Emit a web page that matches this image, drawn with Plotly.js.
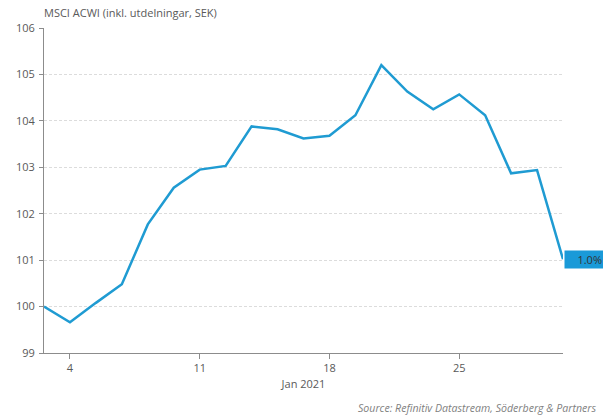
<!DOCTYPE html>
<html>
<head>
<meta charset="utf-8">
<script src="https://cdn.plot.ly/plotly-3.0.1.min.js"></script>
<style>html,body{margin:0;padding:0;background:#fff;}#chart{width:603px;height:416px;}</style>
</head>
<body>
<div id="chart"></div>
<script>
const dates = ['2021-01-01','2021-01-04','2021-01-05','2021-01-06','2021-01-07','2021-01-08',
  '2021-01-11','2021-01-12','2021-01-13','2021-01-14','2021-01-15',
  '2021-01-18','2021-01-19','2021-01-20','2021-01-21','2021-01-22',
  '2021-01-25','2021-01-26','2021-01-27','2021-01-28','2021-01-29'];
const values = [100.0, 99.66, 100.08, 100.48, 101.77, 102.56,
  102.95, 103.03, 103.88, 103.82, 103.62,
  103.68, 104.12, 105.2, 104.63, 104.25,
  104.57, 104.12, 102.87, 102.94, 101.02];
const tickDates = ['2021-01-04','2021-01-11','2021-01-18','2021-01-25'];
const tickLabels = ['4','11','18','25'];
const lastLabel = '1.0%';
const titleText = 'MSCI ACWI (inkl. utdelningar, SEK)';
const xTitle = 'Jan 2021';
const sourceText = 'Source: Refinitiv Datastream, Söderberg &amp; Partners';

const font = 'Open Sans, DejaVu Sans, sans-serif';
const trace = {
  x: dates, y: values, type: 'scatter', mode: 'lines',
  line: {color: '#1f9bd2', width: 2.5}, hoverinfo: 'skip'
};
const layout = {
  width: 603, height: 416,
  margin: {l: 44, r: 40, t: 28, b: 63},
  paper_bgcolor: '#fff', plot_bgcolor: '#fff',
  showlegend: false,
  font: {family: font, color: '#595959', size: 11},
  xaxis: {
    type: 'category', range: [0, dates.length - 1],
    tickvals: tickDates, ticktext: tickLabels,
    showgrid: false, zeroline: false,
    showline: true, linecolor: '#8c8c8c', linewidth: 1,
    ticks: 'outside', ticklen: 5, tickcolor: '#8c8c8c',
    tickfont: {size: 11, color: '#595959'},
    title: {text: xTitle, font: {size: 11, color: '#595959'}, standoff: 6}
  },
  yaxis: {
    range: [99, 106], dtick: 1,
    showgrid: true, gridcolor: '#dcdcdc', griddash: '3px,2px', gridwidth: 1,
    zeroline: false, showline: true, linecolor: '#8c8c8c', linewidth: 1,
    ticks: 'outside', ticklen: 4, tickcolor: '#8c8c8c',
    tickfont: {size: 11, color: '#595959'}, ticklabelstandoff: 2
  },
  annotations: [
    {x: dates[dates.length - 1], y: values[values.length - 1], xref: 'x', yref: 'y',
     text: lastLabel, showarrow: false, xanchor: 'left', yanchor: 'middle',
     bgcolor: '#1a9ad8', borderpad: 1, width: 36, height: 15, align: 'right', xshift: 1,
     font: {size: 11, color: '#333333', family: font}},
    {x: 0, y: 1, xref: 'paper', yref: 'paper', text: titleText,
     showarrow: false, xanchor: 'left', yanchor: 'middle', xshift: -2, yshift: 16,
     font: {size: 11, color: '#595959', family: font}},
    {x: 1, y: 0, xref: 'paper', yref: 'paper', text: '<i>' + sourceText + '</i>',
     showarrow: false, xanchor: 'right', yanchor: 'middle', xshift: 35, yshift: -55,
     font: {size: 10.6, color: '#7f7f7f', family: font}}
  ]
};
Plotly.newPlot('chart', [trace], layout, {displayModeBar: false, staticPlot: true});
</script>
</body>
</html>
